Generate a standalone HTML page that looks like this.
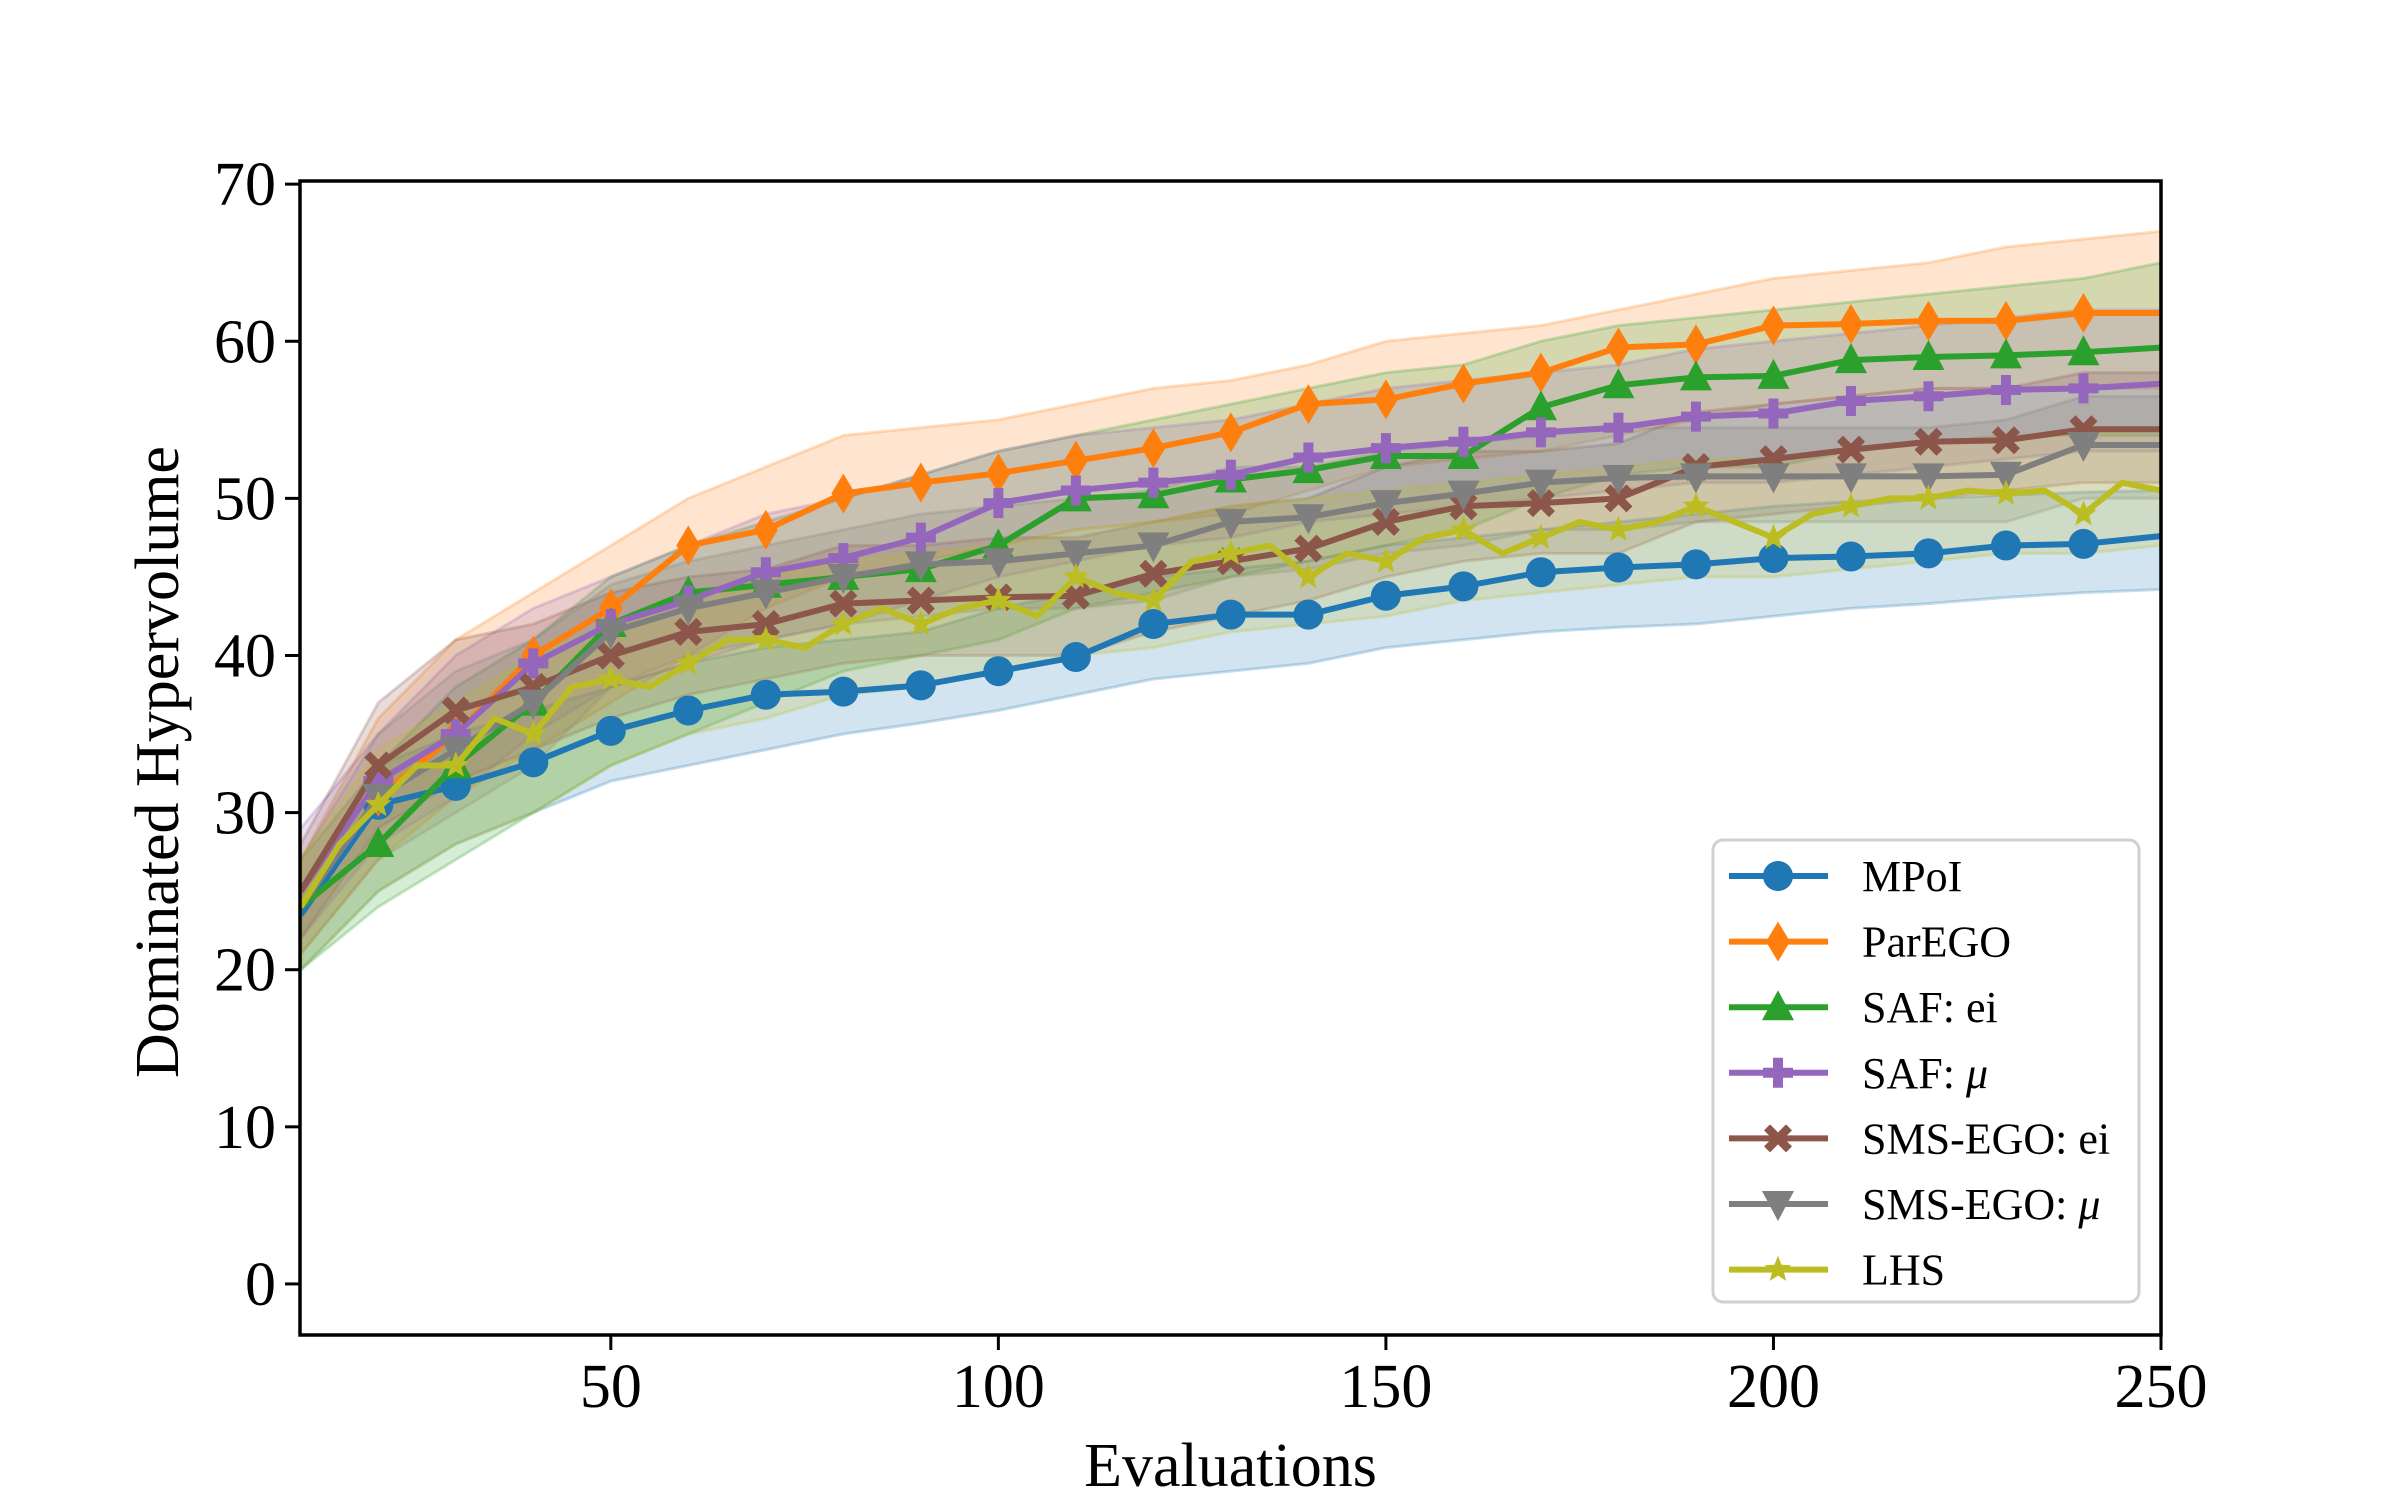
<!DOCTYPE html>
<html><head><meta charset="utf-8"><style>
html,body{margin:0;padding:0;background:#fff;}
svg{display:block;font-family:"Liberation Serif",serif;}
</style></head><body>
<svg id="chart" width="2400" height="1500" viewBox="0 0 2400 1500" xmlns="http://www.w3.org/2000/svg">
<rect width="2400" height="1500" fill="#fff"/>
<g id="bands"></g>
<g id="lines"></g>
<g id="axes"></g>
<g id="legend"></g>
</svg>
<script>
const xGrid = [10,20,30,40,50,60,70,80,90,100,110,120,130,140,150,160,170,180,190,200,210,220,230,240,250];
const xGridLhs = [10,15,20,25,30,35,40,45,50,55,60,65,70,75,80,85,90,95,100,105,110,115,120,125,130,135,140,145,150,155,160,165,170,175,180,185,190,195,200,205,210,215,220,225,230,235,240,245,250];
const seriesNames = ["MPoI","ParEGO","SAF: ei","SAF: μ","SMS-EGO: ei","SMS-EGO: μ","LHS"];
const mpoiMean = [23.5,30.5,31.7,33.2,35.2,36.5,37.5,37.7,38.1,39,39.9,42,42.6,42.6,43.8,44.4,45.3,45.6,45.8,46.2,46.3,46.5,47,47.1,47.6];
const mpoiLo = [20,25,28,30,32,33,34,35,35.7,36.5,37.5,38.5,39,39.5,40.5,41,41.5,41.8,42,42.5,43,43.3,43.7,44,44.2];
const mpoiHi = [25,33,35,36.5,38,39.5,40.5,41,41.5,43,44,45,45.5,46,47,47.5,48,48.5,49,49.5,49.8,50,50.2,50.4,50.5];
const paregoMean = [24,31,35,40,43,47,48,50.3,51,51.6,52.4,53.2,54.2,56,56.3,57.3,58,59.6,59.8,61,61.1,61.3,61.3,61.8,61.8];
const paregoHi = [27,36,41,44,47,50,52,54,54.5,55,56,57,57.5,58.5,60,60.5,61,62,63,64,64.5,65,66,66.5,67];
const paregoLo = [21,27,31,34,37,40,43,45,46,47,48,48.5,49,50.5,52,52.5,53,54,55,56,56.5,57,57,57,57];
const safEiMean = [24,28,33,37,42,44,44.5,45,45.5,47,50,50.2,51.2,51.8,52.7,52.7,55.8,57.2,57.7,57.8,58.8,59,59.1,59.3,59.6];
const safEiHi = [27,33,38,41,45,47,48.5,50,51.5,53,54,55,56,57,58,58.5,60,61,61.5,62,62.5,63,63.5,64,65];
const safEiLo = [20,24,27,30,33,35,37,39,40,41,43,44,45,46,47,48,50,51.5,52,52,53,53.5,54,54,54];
const safMuMean = [25,32,35,39.5,42,43.5,45.3,46.2,47.5,49.7,50.5,51,51.5,52.6,53.2,53.6,54.2,54.5,55.2,55.4,56.2,56.5,56.9,57,57.3];
const safMuHi = [29,35,40,43,45,47,49,50,51.5,53,54,54.5,55,56,57,57.5,58,58.5,59.5,60,60.5,61,61.5,62,62];
const safMuLo = [22,28,31,35,38,39.5,41,42,43.5,45,46,47,47.5,48.5,49,49.5,50,50.5,51,51,51.5,52,52.5,53,53];
const smsEiMean = [25,33,36.5,38,40,41.5,42,43.3,43.5,43.7,43.8,45.2,46,46.8,48.5,49.5,49.7,50,52,52.5,53.1,53.6,53.7,54.4,54.4];
const smsEiHi = [28,37,41,42,44,45,45.5,47,47,47.5,47.5,48.5,49.5,50,52,53,53,53.5,55.5,56,56.5,57,57,58,58];
const smsEiLo = [22,29,32,34,36,37.5,38.5,39.5,40,40,40,41.5,42.5,43.5,45,46,46.5,46.5,48.5,49,49.5,50,50.5,51,51];
const smsMuMean = [24,31,34,37,41.5,43,44,45,45.8,46,46.5,47,48.5,48.8,49.7,50.3,51,51.3,51.4,51.4,51.4,51.4,51.5,53.4,53.4];
const smsMuHi = [27,35,39,41,44.5,46,47,48,49,49.5,50,50.5,52,52,53,53.5,54,54.5,54.5,54.5,54.5,54.5,55,56.5,56.5];
const smsMuLo = [21,27,30,33,38,40,41,42,42.5,43,43,43.5,45,45.5,46.5,47,48,48,48.5,48.5,48.5,48.5,48.5,50,50];
const lhsMean = [24,28,30.5,33,33,36,35,38,38.5,38,39.5,41,41,40.5,42,43,42,43,43.5,42.5,45,44,43.5,46,46.5,47,45,46.5,46,47.5,48,46.5,47.5,48.5,48,48.5,49.5,48.5,47.5,49,49.5,50,50,50.5,50.3,50.5,49,51,50.5];
const lhsHi = [27,34,37,40,42,43,45,46,46.5,47,48,48.5,49.5,50,50.5,51,51.5,52,52.5,52.5,53,53.5,54,54,54.5];
const lhsLo = [20,25,28,30,33,35,36,37.5,38,39,40,40.5,41.5,42,42.5,43.5,44,44.5,45,45,45.5,46,46.5,46.5,47];
const xTicks = [50,100,150,200,250];
const yTicks = [0,10,20,30,40,50,60,70];

const L=300,R=2161,T=181,B=1335,XMIN=9.9,XMAX=250,YMIN=-3.25,YMAX=70.2;
const sx=v=>L+(v-XMIN)/(XMAX-XMIN)*(R-L);
const sy=v=>B-(v-YMIN)/(YMAX-YMIN)*(B-T);
const NS="http://www.w3.org/2000/svg";
function mk(tag,attrs,parent){const e=document.createElementNS(NS,tag);for(const k in attrs)e.setAttribute(k,attrs[k]);parent.appendChild(e);return e;}

const series=[
 {name:seriesNames[0],key:"mpoi",color:"#1f77b4",m:"circle",xs:xGrid,mean:mpoiMean,lo:mpoiLo,hi:mpoiHi},
 {name:seriesNames[1],key:"parego",color:"#ff7f0e",m:"diamond",xs:xGrid,mean:paregoMean,lo:paregoLo,hi:paregoHi},
 {name:seriesNames[2],key:"saf-ei",color:"#2ca02c",m:"tri",xs:xGrid,mean:safEiMean,lo:safEiLo,hi:safEiHi},
 {name:seriesNames[3],key:"saf-mu",color:"#9467bd",m:"plus",xs:xGrid,mean:safMuMean,lo:safMuLo,hi:safMuHi},
 {name:seriesNames[4],key:"sms-ego-ei",color:"#8c564b",m:"x",xs:xGrid,mean:smsEiMean,lo:smsEiLo,hi:smsEiHi},
 {name:seriesNames[5],key:"sms-ego-mu",color:"#7f7f7f",m:"tridown",xs:xGrid,mean:smsMuMean,lo:smsMuLo,hi:smsMuHi},
 {name:seriesNames[6],key:"lhs",color:"#bcbd22",m:"star",xs:xGridLhs,mean:lhsMean,lo:lhsLo,hi:lhsHi}
];

function marker(type,cx,cy,color,parent,name){
 let e;const s=15;
 if(type==="circle")e=mk("circle",{cx:cx,cy:cy,r:s},parent);
 else{
  let p;
  if(type==="diamond")p=[[0,-20],[12,0],[0,20],[-12,0]];
  else if(type==="tri")p=[[0,-17],[16,13],[-16,13]];
  else if(type==="tridown")p=[[-16,-13],[16,-13],[0,17]];
  else if(type==="plus")p=[[-5,-15],[5,-15],[5,-5],[15,-5],[15,5],[5,5],[5,15],[-5,15],[-5,5],[-15,5],[-15,-5],[-5,-5]];
  else if(type==="x")p=[[-8,-14],[0,-6],[8,-14],[14,-8],[6,0],[14,8],[8,14],[0,6],[-8,14],[-14,8],[-6,0],[-14,-8]];
  else {p=[];for(let i=0;i<10;i++){const a=-Math.PI/2+i*Math.PI/5,r=i%2?6:14;p.push([r*Math.cos(a),r*Math.sin(a)]);}}
  e=mk("polygon",{points:p.map(q=>(cx+q[0])+","+(cy+q[1])).join(" ")},parent);
 }
 e.setAttribute("fill",color);
 
 
 return e;
}

const gb=document.getElementById("bands"),gl=document.getElementById("lines");
series.forEach(s=>{
 let d="";
 xGrid.forEach((x,i)=>{d+=(i?"L":"M")+sx(x)+","+sy(s.hi[i]);});
 for(let i=xGrid.length-1;i>=0;i--)d+="L"+sx(xGrid[i])+","+sy(s.lo[i]);
 const b=mk("path",{d:d+"Z",fill:s.color,"fill-opacity":0.2,stroke:s.color,"stroke-opacity":0.25,"stroke-width":3},gb);
 
 
});
series.forEach(s=>{
 const d=s.xs.map((x,i)=>(i?"L":"M")+sx(x)+","+sy(s.mean[i])).join("");
 const p=mk("path",{d:d,fill:"none",stroke:s.color,"stroke-width":6,"stroke-linejoin":"round"},gl);
 
 
 s.xs.forEach((x,i)=>{
  if(x%10===0&&x>=20&&x<=240)marker(s.m,sx(x),sy(s.mean[i]),s.color,gl,s.key+'-marker');
 });
});

const ga=document.getElementById("axes");
const fr=mk("rect",{x:L,y:T,width:R-L,height:B-T,fill:"none",stroke:"#000","stroke-width":3.5},ga);


xTicks.forEach(v=>{
 const x=sx(v);
 const t=mk("line",{x1:x,y1:B,x2:x,y2:B+15,stroke:"#000","stroke-width":3},ga);
 
 
 const tx=mk("text",{x:x,y:B+72,"text-anchor":"middle","font-size":62},ga);
 tx.textContent=v;
 
 
});
yTicks.forEach(v=>{
 const y=sy(v);
 const t=mk("line",{x1:L-15,y1:y,x2:L,y2:y,stroke:"#000","stroke-width":3},ga);
 
 
 const tx=mk("text",{x:L-24,y:y+21,"text-anchor":"end","font-size":62},ga);
 tx.textContent=v;
 
 
});
const xl=mk("text",{x:(L+R)/2,y:1486,"text-anchor":"middle","font-size":62},ga);
xl.textContent="Evaluations";


const yl=mk("text",{x:0,y:0,"text-anchor":"middle","font-size":62,transform:"translate(178,762) rotate(-90)"},ga);
yl.textContent="Dominated Hypervolume";



const lg=document.getElementById("legend");
const lb=mk("rect",{x:1713,y:840,width:426,height:462,rx:10,fill:"#fff","fill-opacity":0.8,stroke:"#d0d0d0","stroke-width":3},lg);


series.forEach((s,i)=>{
 const y=876+i*65.6;
 const ln=mk("line",{x1:1729,y1:y,x2:1828,y2:y,stroke:s.color,"stroke-width":6},lg);
 
 
 marker(s.m,1778,y,s.color,lg,'legend-marker');
 const t=mk("text",{x:1862,y:y+15,"font-size":44},lg);
 if(s.name.indexOf("μ")>=0){
  t.textContent=s.name.replace("μ","");
  const ts=mk("tspan",{"font-style":"italic"},t);ts.textContent="μ";
 } else t.textContent=s.name;
 
 
});
</script>
</body></html>
